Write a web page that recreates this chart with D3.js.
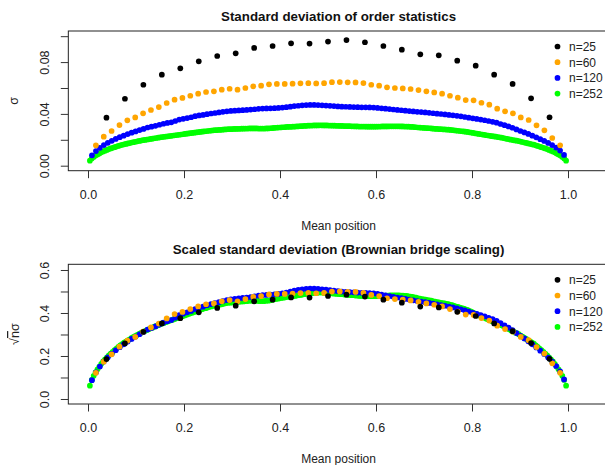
<!DOCTYPE html>
<html>
<head>
<meta charset="utf-8">
<script src="https://cdn.jsdelivr.net/npm/d3@7"></script>
<style>
  body { margin: 0; background: #fff; }
  svg { display: block; font-family: 'Liberation Sans', Arial, Helvetica, sans-serif; }
</style>
</head>
<body>
<div id="chart"></div>
<script>
// sample sizes and their colours (legend order)
const sampleSizes = [25, 60, 120, 252];
const seriesColors = ['black', 'orange', 'blue', '#00ff00'];

// sd of the i-th order statistic
const sigma25 = [
  0.0371, 0.0517, 0.0625, 0.0703, 0.0752, 0.0806, 0.0847, 0.0868, 0.0909, 0.0924,
  0.0945, 0.0943, 0.0958, 0.0970, 0.0953, 0.0924, 0.0896, 0.0860, 0.0852, 0.0811,
  0.0772, 0.0703, 0.0631, 0.0520, 0.0374,
];
const sigma60 = [
  0.0157, 0.0224, 0.0268, 0.0314, 0.0350, 0.0373, 0.0404, 0.0430, 0.0453, 0.0484,
  0.0510, 0.0523, 0.0540, 0.0556, 0.0569, 0.0574, 0.0587, 0.0594, 0.0587, 0.0600,
  0.0613, 0.0618, 0.0628, 0.0631, 0.0631, 0.0633, 0.0636, 0.0637, 0.0635, 0.0637,
  0.0645, 0.0646, 0.0644, 0.0643, 0.0638, 0.0625, 0.0618, 0.0605, 0.0600, 0.0597,
  0.0592, 0.0584, 0.0574, 0.0566, 0.0556, 0.0540, 0.0525, 0.0507, 0.0505, 0.0486,
  0.0471, 0.0440, 0.0420, 0.0404, 0.0373, 0.0353, 0.0312, 0.0273, 0.0214, 0.0157,
];
const sigma120 = [
  0.0080, 0.0113, 0.0138, 0.0159, 0.0177, 0.0192, 0.0207, 0.0220, 0.0232, 0.0244,
  0.0255, 0.0265, 0.0275, 0.0284, 0.0295, 0.0301, 0.0308, 0.0316, 0.0324, 0.0330,
  0.0335, 0.0345, 0.0356, 0.0362, 0.0368, 0.0374, 0.0382, 0.0388, 0.0392, 0.0398,
  0.0403, 0.0407, 0.0411, 0.0416, 0.0420, 0.0423, 0.0425, 0.0427, 0.0429, 0.0431,
  0.0433, 0.0436, 0.0439, 0.0441, 0.0442, 0.0443, 0.0444, 0.0446, 0.0449, 0.0452,
  0.0456, 0.0460, 0.0463, 0.0466, 0.0468, 0.0469, 0.0469, 0.0468, 0.0466, 0.0464,
  0.0462, 0.0460, 0.0458, 0.0456, 0.0455, 0.0454, 0.0453, 0.0452, 0.0451, 0.0451,
  0.0450, 0.0449, 0.0446, 0.0443, 0.0440, 0.0437, 0.0434, 0.0431, 0.0428, 0.0425,
  0.0422, 0.0419, 0.0416, 0.0414, 0.0411, 0.0408, 0.0405, 0.0402, 0.0399, 0.0396,
  0.0392, 0.0389, 0.0385, 0.0381, 0.0376, 0.0371, 0.0366, 0.0361, 0.0356, 0.0351,
  0.0345, 0.0339, 0.0332, 0.0322, 0.0313, 0.0303, 0.0293, 0.0280, 0.0268, 0.0257,
  0.0245, 0.0232, 0.0219, 0.0205, 0.0191, 0.0176, 0.0159, 0.0140, 0.0117, 0.0083,
];
const sigma252 = [
  0.0039, 0.0056, 0.0068, 0.0078, 0.0087, 0.0095, 0.0103, 0.0110, 0.0116, 0.0122,
  0.0128, 0.0133, 0.0138, 0.0143, 0.0148, 0.0153, 0.0157, 0.0161, 0.0165, 0.0168,
  0.0172, 0.0175, 0.0179, 0.0182, 0.0185, 0.0188, 0.0191, 0.0194, 0.0197, 0.0199,
  0.0202, 0.0204, 0.0207, 0.0209, 0.0212, 0.0214, 0.0216, 0.0219, 0.0221, 0.0223,
  0.0225, 0.0227, 0.0229, 0.0231, 0.0233, 0.0235, 0.0237, 0.0239, 0.0241, 0.0243,
  0.0245, 0.0247, 0.0249, 0.0251, 0.0253, 0.0255, 0.0257, 0.0259, 0.0261, 0.0263,
  0.0265, 0.0266, 0.0268, 0.0270, 0.0271, 0.0273, 0.0274, 0.0275, 0.0276, 0.0277,
  0.0278, 0.0280, 0.0281, 0.0282, 0.0282, 0.0283, 0.0284, 0.0284, 0.0285, 0.0285,
  0.0286, 0.0286, 0.0287, 0.0287, 0.0288, 0.0288, 0.0288, 0.0288, 0.0288, 0.0287,
  0.0287, 0.0287, 0.0287, 0.0288, 0.0288, 0.0289, 0.0290, 0.0292, 0.0293, 0.0294,
  0.0295, 0.0296, 0.0297, 0.0298, 0.0299, 0.0300, 0.0300, 0.0301, 0.0302, 0.0303,
  0.0304, 0.0305, 0.0306, 0.0307, 0.0308, 0.0309, 0.0310, 0.0310, 0.0311, 0.0311,
  0.0311, 0.0312, 0.0312, 0.0311, 0.0311, 0.0311, 0.0310, 0.0310, 0.0309, 0.0309,
  0.0308, 0.0308, 0.0307, 0.0307, 0.0306, 0.0306, 0.0305, 0.0305, 0.0304, 0.0304,
  0.0303, 0.0303, 0.0302, 0.0302, 0.0302, 0.0302, 0.0301, 0.0301, 0.0301, 0.0301,
  0.0301, 0.0301, 0.0302, 0.0302, 0.0303, 0.0303, 0.0303, 0.0303, 0.0304, 0.0304,
  0.0304, 0.0304, 0.0304, 0.0304, 0.0303, 0.0303, 0.0302, 0.0302, 0.0301, 0.0300,
  0.0299, 0.0298, 0.0297, 0.0295, 0.0294, 0.0293, 0.0292, 0.0291, 0.0290, 0.0289,
  0.0288, 0.0286, 0.0285, 0.0284, 0.0283, 0.0282, 0.0281, 0.0280, 0.0279, 0.0278,
  0.0276, 0.0275, 0.0273, 0.0271, 0.0270, 0.0268, 0.0266, 0.0265, 0.0263, 0.0261,
  0.0258, 0.0256, 0.0253, 0.0250, 0.0248, 0.0245, 0.0243, 0.0240, 0.0238, 0.0235,
  0.0233, 0.0231, 0.0228, 0.0226, 0.0224, 0.0221, 0.0219, 0.0216, 0.0213, 0.0210,
  0.0207, 0.0204, 0.0201, 0.0198, 0.0195, 0.0193, 0.0190, 0.0186, 0.0183, 0.0179,
  0.0176, 0.0172, 0.0169, 0.0165, 0.0162, 0.0157, 0.0153, 0.0148, 0.0143, 0.0138,
  0.0133, 0.0128, 0.0122, 0.0116, 0.0110, 0.0103, 0.0095, 0.0087, 0.0078, 0.0068,
  0.0056, 0.0039,
];
const sigmaBySize = [sigma25, sigma60, sigma120, sigma252];

// axis ticks (R drops the labels that would overlap)
const xTicks = [0, 0.2, 0.4, 0.6, 0.8, 1.0];
const yTicksTop = [0, 0.02, 0.04, 0.06, 0.08, 0.10];
const yLabelsTop = [0, 0.04, 0.08];
const yTicksBottom = [0, 0.1, 0.2, 0.3, 0.4, 0.5, 0.6];
const yLabelsBottom = [0, 0.2, 0.4, 0.6];

const width = 605;
const height = 465;
const ptRadius = 2.85;

const svg = d3.select('#chart')
  .append('svg')
  .attr('width', width)
  .attr('height', height);

// mean position of the i-th order statistic out of n is i/(n+1)
const makeSeries = (scaled) => sampleSizes.map((n, k) => ({
  n,
  color: seriesColors[k],
  pts: sigmaBySize[k].map((s, i) => ({
    x: (i + 1) / (n + 1),
    y: scaled ? Math.sqrt(n) * s : s,
  })),
}));

const drawPanel = (cfg) => {
  const x = d3.scaleLinear().domain([0, 1]).range([88, 568]);
  const y = d3.scaleLinear().domain(cfg.yDomain).range([cfg.bottom, cfg.top]);
  const left = x(-0.041);
  const right = x(1.085);
  const g = svg.append('g');

  // points: largest n first so the sparse series sit on top
  const series = makeSeries(cfg.scaled).slice().reverse();
  series.forEach((s) => {
    g.append('g')
      .selectAll('circle')
      .data(s.pts)
      .join('circle')
      .attr('cx', (d) => x(d.x))
      .attr('cy', (d) => y(d.y))
      .attr('r', ptRadius)
      .attr('fill', s.color);
  });

  // box
  g.append('rect')
    .attr('x', left)
    .attr('y', cfg.top)
    .attr('width', right - left)
    .attr('height', cfg.bottom - cfg.top)
    .attr('fill', 'none')
    .attr('stroke', '#222')
    .attr('stroke-width', 1);

  // x axis
  const xAxis = g.append('g')
    .attr('transform', `translate(0,${cfg.bottom})`)
    .call(d3.axisBottom(x)
      .tickValues(xTicks)
      .tickFormat(d3.format('.1f'))
      .tickSize(7.5)
      .tickPadding(11.5));
  xAxis.select('.domain').remove();
  xAxis.selectAll('line').attr('stroke', '#333');
  xAxis.selectAll('text')
    .attr('fill', '#222')
    .style('font-size', '12.5px')
    .style('font-family', null);

  // y axis with R-style rotated labels
  const yAxis = g.append('g')
    .attr('transform', `translate(${left},0)`)
    .call(d3.axisLeft(y)
      .tickValues(cfg.yTicks)
      .tickFormat((d) => (cfg.yLabels.some((v) => Math.abs(v - d) < 1e-9) ? cfg.fmt(d) : ''))
      .tickSize(7.5));
  yAxis.select('.domain').remove();
  yAxis.selectAll('line').attr('stroke', '#333');
  yAxis.selectAll('text')
    .attr('transform', 'rotate(-90)')
    .attr('x', 0)
    .attr('y', -19)
    .attr('dy', null)
    .attr('fill', '#222')
    .style('text-anchor', 'middle')
    .style('font-size', '12.5px')
    .style('font-family', null);

  // title
  g.append('text')
    .attr('x', (left + right) / 2)
    .attr('y', cfg.titleY)
    .attr('text-anchor', 'middle')
    .style('font-size', '13.3px')
    .style('font-weight', 'bold')
    .attr('fill', '#111')
    .text(cfg.title);

  // x label
  g.append('text')
    .attr('x', (left + right) / 2)
    .attr('y', cfg.xLabelY)
    .attr('text-anchor', 'middle')
    .style('font-size', '12px')
    .attr('fill', '#222')
    .text('Mean position');

  // y label
  const yl = g.append('text')
    .attr('transform', `translate(${cfg.yLabelX},${(cfg.top + cfg.bottom) / 2}) rotate(-90)`)
    .attr('text-anchor', 'middle')
    .style('font-size', '12.5px')
    .attr('fill', '#222');
  cfg.yLabel(yl);

  // legend (no box)
  const leg = g.append('g');
  sampleSizes.forEach((n, k) => {
    const ly = cfg.top + 15.5 + k * 15.7;
    leg.append('circle')
      .attr('cx', 557.5)
      .attr('cy', ly)
      .attr('r', ptRadius)
      .attr('fill', seriesColors[k]);
    leg.append('text')
      .attr('x', 569)
      .attr('y', ly + 4.3)
      .style('font-size', '12px')
      .attr('fill', '#222')
      .text(`n=${n}`);
  });
};

drawPanel({
  top: 31,
  bottom: 170.7,
  yDomain: [-0.00386, 0.104],
  yTicks: yTicksTop,
  yLabels: yLabelsTop,
  fmt: d3.format('.2f'),
  scaled: false,
  title: 'Standard deviation of order statistics',
  titleY: 20.5,
  xLabelY: 229.5,
  yLabelX: 18,
  yLabel: (t) => t.text('σ'),
});

drawPanel({
  top: 264.3,
  bottom: 404,
  yDomain: [-0.0233, 0.6265],
  yTicks: yTicksBottom,
  yLabels: yLabelsBottom,
  fmt: d3.format('.1f'),
  scaled: true,
  title: 'Scaled standard deviation (Brownian bridge scaling)',
  titleY: 254,
  xLabelY: 463,
  yLabelX: 19,
  yLabel: (t) => {
    t.append('tspan').text('√');
    t.append('tspan').style('text-decoration', 'overline').text('n');
    t.append('tspan').text('σ');
  },
});
</script>
</body>
</html>
